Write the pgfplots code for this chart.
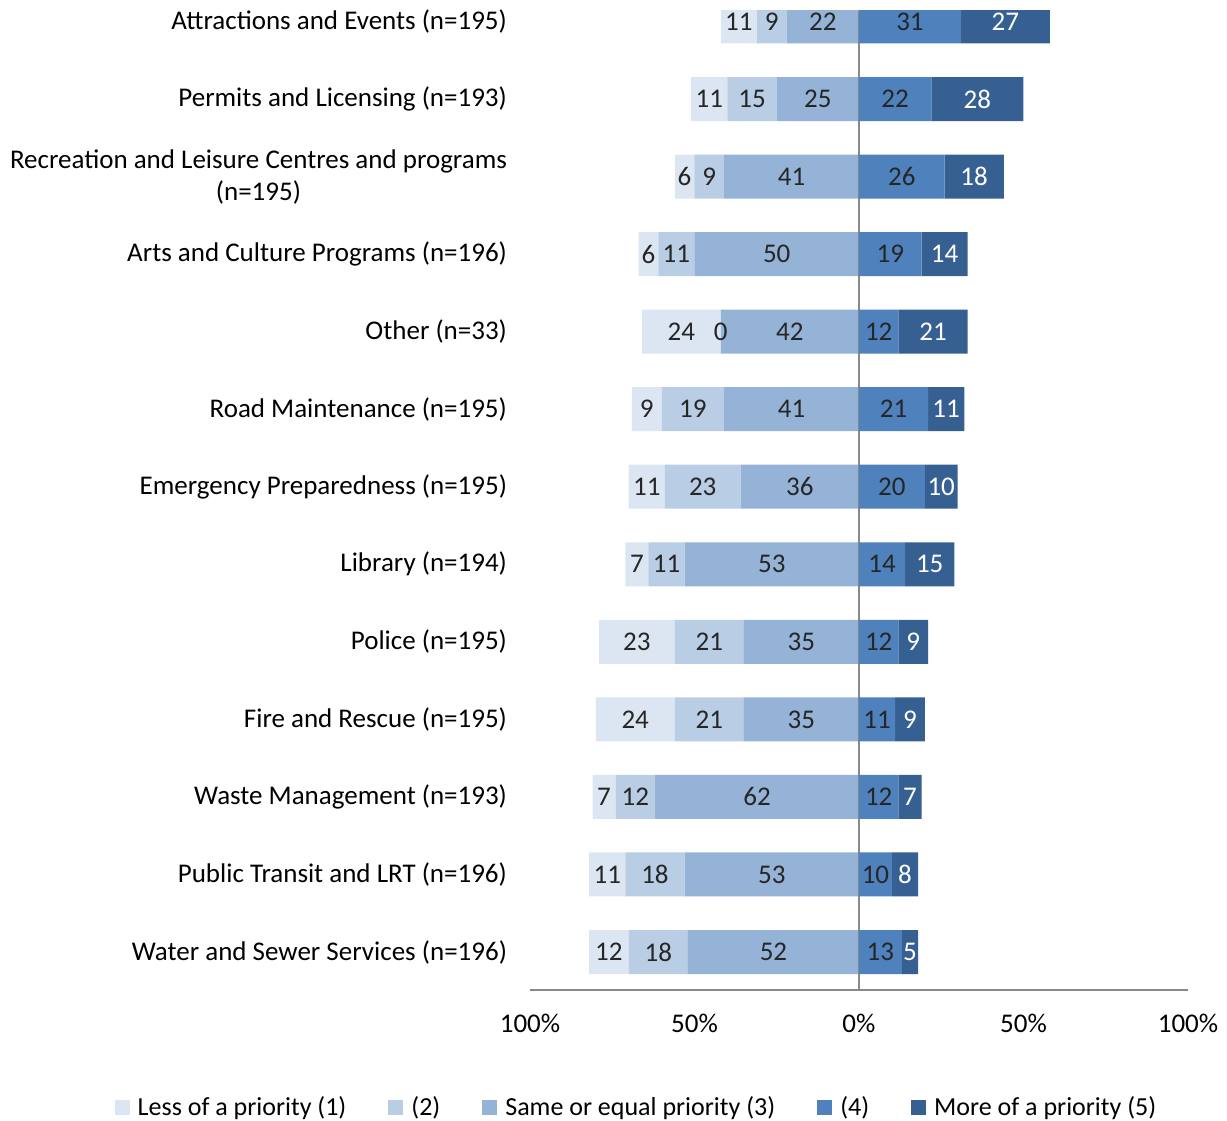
\documentclass[border=0pt]{standalone}
\usepackage{fontspec}
\setmainfont{Carlito}
\usepackage{pgfplots}
\usepackage{pgfplotstable}
\pgfplotsset{compat=1.18}

\definecolor{c1}{HTML}{DCE6F2}
\definecolor{c2}{HTML}{B9CDE5}
\definecolor{c3}{HTML}{95B3D7}
\definecolor{c4}{HTML}{4F81BD}
\definecolor{c5}{HTML}{366092}
\definecolor{axgray}{HTML}{898989}
\newcommand\cf{\fontsize{13.5}{16}\selectfont}
\newcommand\lf{\fontsize{13}{15.5}\selectfont}

% y: 0 = bottom row (Water) ... 12 = top row (Attractions)
\pgfplotstableread{
y  v1 v2 v3 v4 v5
0  12 18 52 13 5
1  11 18 53 10 8
2  7  12 62 12 7
3  24 21 35 11 9
4  23 21 35 12 9
5  7  11 53 14 15
6  11 23 36 20 10
7  9  19 41 21 11
8  24 0  42 12 21
9  6  11 50 19 14
10 6  9  41 26 18
11 11 15 25 22 28
12 11 9  22 31 27
}\data

\pgfplotsset{
  common/.style={
    scale only axis, width=329pt, height=489.5pt,
    xmin=-100, xmax=100, ymin=-0.49, ymax=12.135,
    xbar stacked, bar width=22pt,
    /pgf/number format/assume math mode=true,
    every node near coord/.append style={font=\cf, text=black!85, anchor=center},
  },
}

\begin{document}
\begin{tikzpicture}
% left half: (3), (2), (1) stacked outwards from 0 (fills only)
\begin{axis}[common, x dir=reverse, hide axis]
\addplot[fill=c3, draw=none] table[x=v3, y=y] {\data};
\addplot[fill=c2, draw=none] table[x=v2, y=y] {\data};
\addplot[fill=c1, draw=none] table[x=v1, y=y] {\data};
\end{axis}
% left half again: labels only, on top of all fills
% (a zero-length bar gets no label, so the (2) layer is nudged by 0.01)
\begin{axis}[common, x dir=reverse, hide axis, nodes near coords,
  point meta=explicit symbolic]
\addplot[fill=none, draw=none] table[x=v3, y=y, meta=v3] {\data};
\addplot[fill=none, draw=none] table[x expr={\thisrow{v2}+0.01}, y=y, meta=v2] {\data};
\addplot[fill=none, draw=none] table[x=v1, y=y, meta=v1] {\data};
\end{axis}
% right half: (4), (5), with labels, axis line and legend
\begin{axis}[common, nodes near coords,
  axis x line*=bottom, axis y line*=left,
  y axis line style={draw=none},
  x axis line style={draw=axgray, line width=0.9pt},
  tick style={draw=none},
  xtick={-100,-50,0,50,100},
  xticklabels={100\%,50\%,0\%,50\%,100\%},
  xticklabel style={font=\cf, yshift=-8.4pt},
  ytick={0,...,12},
  yticklabels={
    {Water and Sewer Services (n=196)},
    {Public Transit and LRT (n=196)},
    {Waste Management (n=193)},
    {Fire and Rescue (n=195)},
    {Police (n=195)},
    {Library (n=194)},
    {Emergency Preparedness (n=195)},
    {Road Maintenance (n=195)},
    {Other (n=33)},
    {Arts and Culture Programs (n=196)},
    {Recreation and Leisure Centres and programs\\(n=195)},
    {Permits and Licensing (n=193)},
    {Attractions and Events (n=195)}},
  yticklabel style={font=\cf, align=center, xshift=-8pt},
  legend columns=5,
  legend image code/.code={\fill[#1] (0pt,-3.75pt) rectangle (7.5pt,3.75pt);},
  legend style={at={(0.1634,-0.1205)}, anchor=center, draw=none, fill=none,
    font=\lf, /tikz/every odd column/.append style={column sep=2pt},
    /tikz/every even column/.append style={column sep=19pt}},
]
\addlegendimage{fill=c1, draw=none}
\addlegendimage{fill=c2, draw=none}
\addlegendimage{fill=c3, draw=none}
\addplot[fill=c4, draw=none] table[x=v4, y=y] {\data};
\addplot[fill=c5, draw=none, nodes near coords style={text=white}] table[x=v5, y=y] {\data};
\legend{Less of a priority (1), (2), Same or equal priority (3), (4), More of a priority (5)}
\draw[axgray, line width=0.9pt] (axis cs:0,-0.49) -- (axis cs:0,12.135);
\end{axis}
\pgfresetboundingbox
\path[use as bounding box] (-265pt,-65pt) rectangle (348.5pt,495pt);
\end{tikzpicture}
\end{document}
